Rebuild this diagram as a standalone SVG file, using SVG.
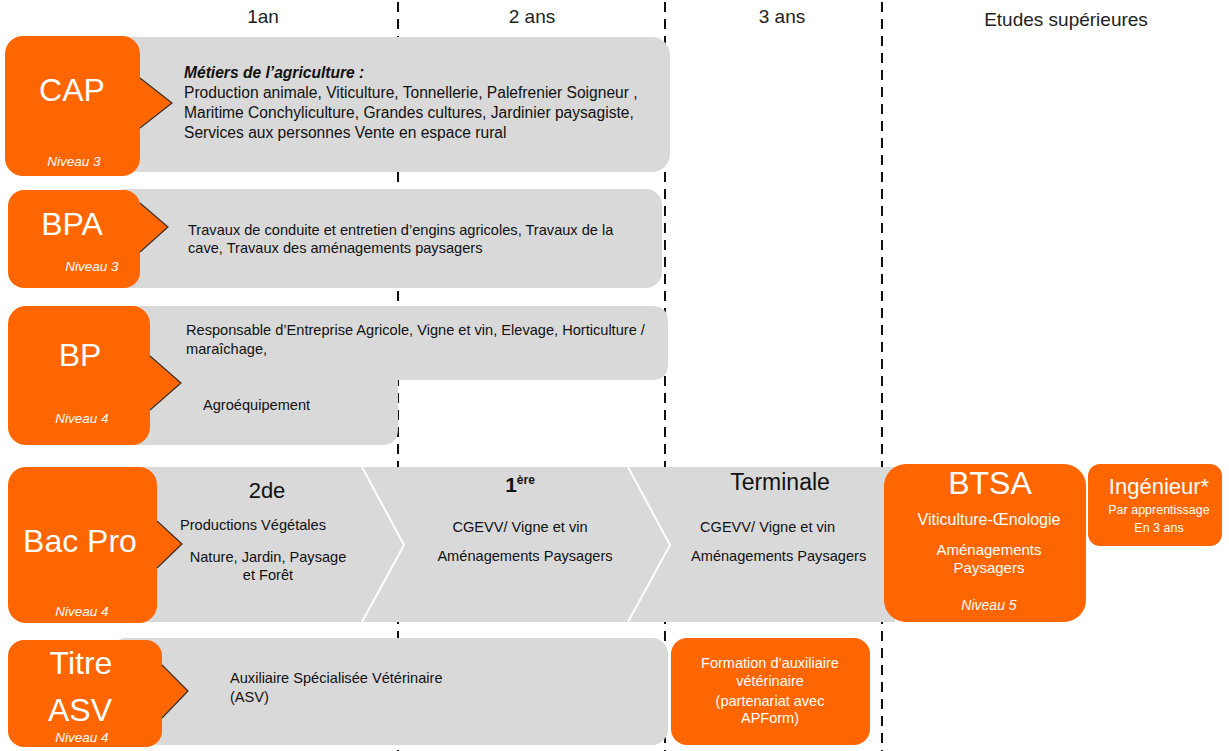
<svg xmlns="http://www.w3.org/2000/svg" width="1229" height="751" viewBox="0 0 1229 751">
<defs>
<style>
.t{font-family:"Liberation Sans",Arial,sans-serif;}
.hd{font-size:19px;fill:#222;text-anchor:middle;}
.gray{fill:#d9d9d9;}
.or{fill:#ff6600;}
.big{font-size:32px;fill:#fff;text-anchor:middle;}
.niv{font-size:13.5px;fill:#fff;font-style:italic;text-anchor:middle;}
.bd{font-size:15.6px;fill:#111;}
.sm{font-size:14.6px;fill:#111;}
.wc{fill:#fff;text-anchor:middle;}
.dash{stroke:#111;stroke-width:2;stroke-dasharray:10,7;fill:none;}
.ptr{stroke:#3a2a20;stroke-width:1.2;fill:none;}
.chev{stroke:#fff;stroke-width:2;fill:none;}
</style>
</defs>
<rect width="1229" height="751" fill="#fff"/>
<g id="timeline">
<line class="dash" x1="398" y1="2" x2="398" y2="751"/>
<line class="dash" x1="665" y1="2" x2="665" y2="751"/>
<line class="dash" x1="882" y1="2" x2="882" y2="751"/>
<text class="t hd" x="263" y="23">1an</text>
<text class="t hd" x="532" y="23">2 ans</text>
<text class="t hd" x="782" y="23">3 ans</text>
<text class="t hd" x="1066" y="26">Etudes supérieures</text>
</g>
<g id="cap">
<rect class="gray" x="110" y="37" width="560" height="135" rx="18"/>
<rect class="or" x="5" y="36" width="135" height="140" rx="18"/>
<polygon class="or" points="139,78 172,103 139,128"/>
<polyline class="ptr" points="140,78 172,103 140,128"/>
<text class="t big" x="72" y="101">CAP</text>
<text class="t niv" x="74" y="166">Niveau 3</text>
<text class="t bd" x="184" y="78" font-weight="bold" font-style="italic">Métiers de l’agriculture :</text>
<text class="t bd" x="184" y="98">Production  animale, Viticulture, Tonnellerie, Palefrenier Soigneur ,</text>
<text class="t bd" x="184" y="118">Maritime  Conchyliculture, Grandes cultures, Jardinier paysagiste,</text>
<text class="t bd" x="184" y="138">Services aux personnes Vente en espace rural</text>
</g>
<g id="bpa">
<rect class="gray" x="110" y="189" width="552" height="99" rx="16"/>
<rect class="or" x="8" y="190" width="132" height="98" rx="16"/>
<polygon class="or" points="139,203 168,227 139,252"/>
<polyline class="ptr" points="140,203 168,227 140,252"/>
<text class="t big" x="72" y="235" font-size="31">BPA</text>
<text class="t niv" x="92" y="271">Niveau 3</text>
<text class="t sm" x="188" y="235">Travaux de conduite et entretien d’engins agricoles, Travaux de la</text>
<text class="t sm" x="188" y="253">cave, Travaux des aménagements paysagers</text>
</g>
<g id="bp">
<path class="gray" d="M126,306 H652 Q668,306 668,322 V364 Q668,380 652,380 H398 V429 Q398,445 382,445 H126 Z"/>
<rect class="or" x="8" y="306" width="142" height="139" rx="18"/>
<polygon class="or" points="149,356 181,383 149,410"/>
<polyline class="ptr" points="150,356 181,383 150,410"/>
<text class="t big" x="80" y="366">BP</text>
<text class="t niv" x="82" y="423">Niveau 4</text>
<text class="t sm" x="186" y="335">Responsable d’Entreprise Agricole, Vigne et vin, Elevage, Horticulture /</text>
<text class="t sm" x="186" y="354">maraîchage,</text>
<text class="t sm" x="203" y="410">Agroéquipement</text>
</g>
<g id="bacpro">
<rect class="gray" x="120" y="467" width="775" height="155"/>
<polyline class="chev" points="362,467 404,545 362,622"/>
<polyline class="chev" points="628,467 670,545 628,622"/>
<rect class="or" x="8" y="467" width="149" height="156" rx="18"/>
<polygon class="or" points="156,521 182,544 156,568"/>
<polyline class="ptr" points="157,521 182,544 157,568"/>
<text class="t big" x="80" y="552" font-size="34">Bac Pro</text>
<text class="t niv" x="82" y="616">Niveau 4</text>
<text class="t" x="267" y="498" font-size="22" fill="#111" text-anchor="middle">2de</text>
<text class="t sm" x="180" y="530">Productions Végétales</text>
<text class="t sm" x="268" y="562" text-anchor="middle">Nature, Jardin, Paysage</text>
<text class="t sm" x="268" y="580" text-anchor="middle">et Forêt</text>
<text class="t" x="520" y="492" font-size="21" font-weight="bold" fill="#111" text-anchor="middle">1<tspan font-size="12" dy="-8">ère</tspan></text>
<text class="t sm" x="520" y="532" text-anchor="middle">CGEVV/ Vigne et vin</text>
<text class="t sm" x="525" y="561" text-anchor="middle">Aménagements Paysagers</text>
<text class="t" x="780" y="490" font-size="23" fill="#111" text-anchor="middle">Terminale</text>
<text class="t sm" x="700" y="532">CGEVV/ Vigne et vin</text>
<text class="t sm" x="691" y="561">Aménagements Paysagers</text>
</g>
<g id="btsa">
<rect class="or" x="884" y="464" width="202" height="158" rx="22"/>
<text class="t wc" x="990" y="494" font-size="32">BTSA</text>
<text class="t wc" x="989" y="525" font-size="16">Viticulture-Œnologie</text>
<text class="t wc" x="989" y="555" font-size="15">Aménagements</text>
<text class="t wc" x="989" y="573" font-size="15">Paysagers</text>
<text class="t wc" x="989" y="610" font-size="14" font-style="italic">Niveau 5</text>
</g>
<g id="ingenieur">
<rect class="or" x="1088" y="464" width="134" height="82" rx="12"/>
<text class="t wc" x="1159" y="494" font-size="22">Ingénieur*</text>
<text class="t wc" x="1159" y="514" font-size="12.5">Par apprentissage</text>
<text class="t wc" x="1159" y="532" font-size="12.5">En 3 ans</text>
</g>
<g id="asv">
<rect class="gray" x="110" y="638" width="558" height="107" rx="16"/>
<rect class="or" x="8" y="640" width="154" height="107" rx="16"/>
<polygon class="or" points="161,665 188,691 161,718"/>
<polyline class="ptr" points="162,665 188,691 162,718"/>
<text class="t big" x="81" y="674">Titre</text>
<text class="t big" x="80" y="721">ASV</text>
<text class="t niv" x="82" y="742">Niveau 4</text>
<text class="t sm" x="230" y="683">Auxiliaire Spécialisée Vétérinaire</text>
<text class="t sm" x="230" y="702">(ASV)</text>
</g>
<g id="formation">
<rect class="or" x="671" y="638" width="199" height="107" rx="16"/>
<text class="t wc" x="770" y="668" font-size="14.5">Formation d’auxiliaire</text>
<text class="t wc" x="770" y="686" font-size="14.5">vétérinaire</text>
<text class="t wc" x="770" y="706" font-size="14.5">(partenariat avec</text>
<text class="t wc" x="770" y="723" font-size="14.5">APForm)</text>
</g>
</svg>
